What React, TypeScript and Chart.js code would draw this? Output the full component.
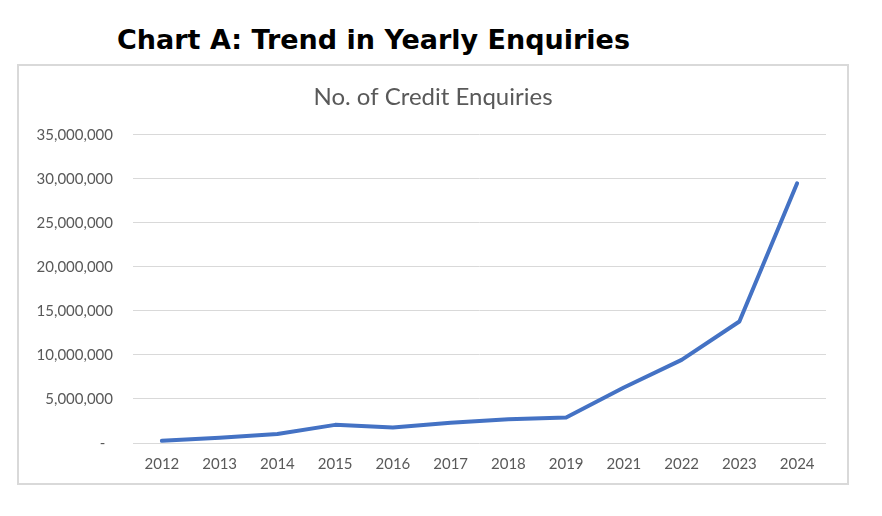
import React, { useEffect, useRef } from "react";
import { Chart, registerables } from "chart.js";

Chart.register(...registerables);

const pageTitle = "Chart A: Trend in Yearly Enquiries";
const chartTitle = "No. of Credit Enquiries";
const years = ["2012", "2013", "2014", "2015", "2016", "2017", "2018", "2019", "2021", "2022", "2023", "2024"];
const enquiries = [250000, 600000, 1030000, 2060000, 1760000, 2290000, 2700000, 2900000, 6300000, 9440000, 13800000, 29500000];
const yMin = 0;
const yMax = 35000000;
const yStep = 5000000;

export default function App() {
  const canvasRef = useRef<HTMLCanvasElement | null>(null);

  useEffect(() => {
    const canvas = canvasRef.current;
    if (!canvas) return;
    const tickFont = { family: "Lato, 'Open Sans', sans-serif", size: 15 };
    const chart = new Chart(canvas, {
      type: "line",
      data: {
        labels: years,
        datasets: [
          {
            label: chartTitle,
            data: enquiries,
            borderColor: "#4472C4",
            backgroundColor: "#4472C4",
            borderWidth: 4,
            pointRadius: 0,
            tension: 0,
            borderCapStyle: "round",
            borderJoinStyle: "round",
            yAxisID: "y",
          },
        ],
      },
      options: {
        responsive: false,
        animation: false,
        devicePixelRatio: 1,
        layout: { padding: { left: 0, right: 0, top: 0, bottom: 0 } },
        plugins: {
          legend: { display: false },
          tooltip: { enabled: false },
          title: {
            display: true,
            text: chartTitle,
            color: "#595959",
            font: { family: "Lato, 'Open Sans', sans-serif", size: 24, weight: "normal" },
            padding: { top: 17, bottom: 23 },
          },
        },
        scales: {
          x: {
            type: "category",
            offset: true,
            grid: { display: false, drawTicks: false },
            border: { display: false },
            ticks: { color: "#595959", font: tickFont, padding: 12, maxRotation: 0, autoSkip: false },
          },
          y: {
            min: yMin,
            max: yMax,
            grid: { color: "#d9d9d9", lineWidth: 1, drawTicks: false },
            border: { display: false },
            ticks: {
              stepSize: yStep,
              color: "#595959",
              font: tickFont,
              padding: 20,
              callback: (v: any) => (Number(v) === 0 ? "-  " : Number(v).toLocaleString("en-US")),
            },
            afterFit: (s: any) => {
              s.width = 114;
            },
          },
          yRight: {
            position: "right",
            min: yMin,
            max: yMax,
            grid: { display: false, drawTicks: false },
            border: { display: false },
            ticks: { display: false },
            afterFit: (s: any) => {
              s.width = 21;
            },
          },
        },
      },
    });
    return () => chart.destroy();
  }, []);

  return (
    <div style={{ position: "absolute", left: 0, top: 0, width: 882, height: 516, background: "#fff" }}>
      <div
        style={{
          position: "absolute",
          left: 117,
          top: 26,
          fontFamily: "'DejaVu Sans', sans-serif",
          fontWeight: 700,
          fontSize: 27,
          lineHeight: "27px",
          color: "#000",
          whiteSpace: "nowrap",
        }}
      >
        {pageTitle}
      </div>
      <div
        style={{
          position: "absolute",
          left: 17,
          top: 64,
          width: 832,
          height: 421,
          boxSizing: "border-box",
          border: "2px solid #d9d9d9",
        }}
      >
        <canvas ref={canvasRef} width={828} height={419} style={{ display: "block", width: 828, height: 419 }} />
      </div>
    </div>
  );
}
